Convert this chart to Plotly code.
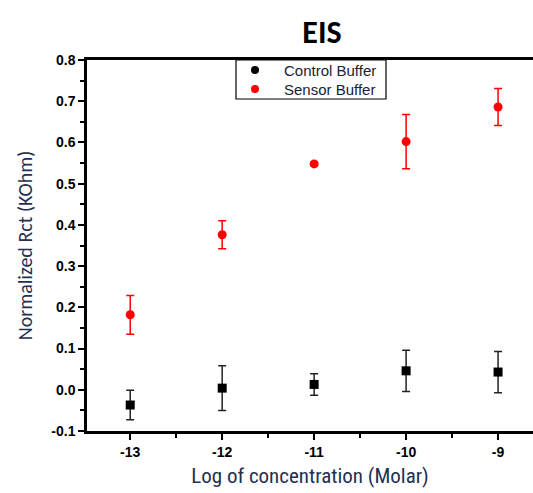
import plotly.graph_objects as go

x_vals = [-13, -12, -11, -10, -9]
control_y = [-0.037, 0.004, 0.013, 0.046, 0.043]
control_err = [0.036, 0.054, 0.026, 0.050, 0.050]
sensor_y = [0.182, 0.376, 0.548, 0.602, 0.686]
sensor_err = [0.047, 0.034, 0.004, 0.066, 0.045]
x_ticks = [-13, -12, -11, -10, -9]
y_ticks = [-0.1, 0.0, 0.1, 0.2, 0.3, 0.4, 0.5, 0.6, 0.7, 0.8]
y_tick_text = ["-0.1", "0.0", "0.1", "0.2", "0.3", "0.4", "0.5", "0.6", "0.7", "0.8"]
series_names = ["Control Buffer", "Sensor Buffer"]
series_colors = ["black", "red"]

W, H = 533, 493
L, R, T, B = 87, 0, 60, 62
PW, PH = W - L - R, H - T - B


def px_x(p):
    return (p - L) / PW


def px_y(p):
    return (H - B - p) / PH


fig = go.Figure()
fig.add_trace(go.Scatter(
    x=x_vals, y=control_y, mode="markers", name=series_names[0], showlegend=False,
    marker=dict(symbol="square", size=9, color=series_colors[0]),
    error_y=dict(type="data", array=control_err, thickness=1.5, width=4, color="#222")))
fig.add_trace(go.Scatter(
    x=x_vals, y=sensor_y, mode="markers", name=series_names[1], showlegend=False,
    marker=dict(symbol="circle", size=9, color=series_colors[1]),
    error_y=dict(type="data", array=sensor_err, thickness=1.5, width=4, color=series_colors[1])))

# manual legend box (matches the original's compact legend)
fig.add_shape(type="rect", xref="paper", yref="paper",
              x0=px_x(236), x1=px_x(386), y0=px_y(99), y1=px_y(60),
              line=dict(color="black", width=1.2), fillcolor="white", layer="above")
for i, (name, col) in enumerate(zip(series_names, series_colors)):
    cy = 70 + 19 * i
    fig.add_shape(type="circle", xref="paper", yref="paper",
                  x0=px_x(251), x1=px_x(259), y0=px_y(cy + 4), y1=px_y(cy - 4),
                  line=dict(color=col, width=0), fillcolor=col, layer="above")
    fig.add_annotation(x=px_x(282), y=px_y(cy), xref="paper", yref="paper",
                       xanchor="left", yanchor="middle", showarrow=False, text=name,
                       font=dict(family="Liberation Sans, Arial", size=15, color="#1a2233"))

tick_font = dict(family="Liberation Sans, Arial", size=14, color="black")
fig.update_layout(
    width=W, height=H, autosize=False,
    margin=dict(l=L, r=R, t=T, b=B),
    plot_bgcolor="white", paper_bgcolor="white",
    showlegend=False,
    title=dict(text="<b>EIS</b>", x=0.604, xanchor="center", y=0.935, yanchor="middle",
               font=dict(family="Carlito, Calibri, sans-serif", size=32, color="black")),
    xaxis=dict(range=[-13.47, -8.62], tickvals=x_ticks, ticktext=[f"<b>{v}</b>" for v in x_ticks],
               showgrid=False, zeroline=False, showline=True, linecolor="black", linewidth=2.5,
               mirror=True, ticks="outside", ticklen=6, tickwidth=2, tickcolor="black",
               minor=dict(ticks="outside", dtick=0.5, tick0=-13, ticklen=4, tickwidth=2, tickcolor="black"),
               tickfont=tick_font,
               title=dict(text="Log of concentration (Molar)", standoff=10,
                          font=dict(family="Roboto Condensed, sans-serif", size=21, color="#1f3050"))),
    yaxis=dict(range=[-0.1, 0.8], tickvals=y_ticks, ticktext=[f"<b>{t}</b>" for t in y_tick_text],
               showgrid=False, zeroline=False, showline=True, linecolor="black", linewidth=2.5,
               mirror=False, ticks="outside", ticklen=6, tickwidth=2, tickcolor="black",
               minor=dict(ticks="outside", dtick=0.05, tick0=0, ticklen=4, tickwidth=2, tickcolor="black"),
               tickfont=tick_font,
               title=dict(text="Normalized Rct (KOhm)", standoff=14,
                          font=dict(family="Carlito, Calibri, sans-serif", size=20, color="#1f3050"))),
)

fig.write_html("out.html")
